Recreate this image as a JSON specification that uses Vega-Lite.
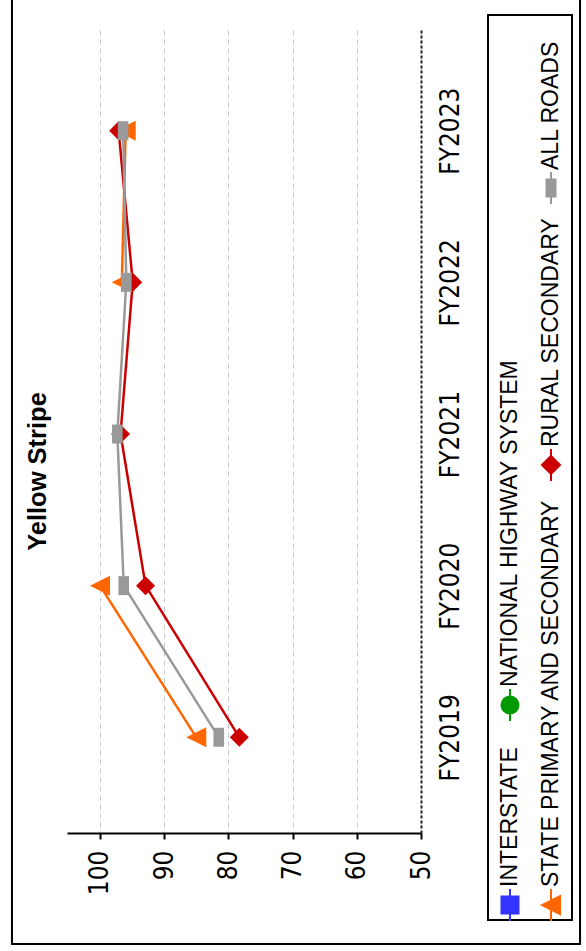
{
  "$schema": "https://vega.github.io/schema/vega-lite/v6.json",
  "width": 354,
  "height": 803,
  "autosize": {"type": "none"},
  "padding": {"left": 67, "top": 30, "right": 165, "bottom": 118},
  "background": "white",
  "config": {"view": {"stroke": null}, "font": "Liberation Sans"},
  "title": {"text": "Yellow Stripe", "orient": "left", "anchor": "middle", "frame": "group", "font": "Liberation Sans", "fontSize": 25.5, "fontWeight": "bold", "color": "black", "offset": -41, "dx": -40},
  "layer": [
    {
      "data": {"values": [
        {"series": "STATE PRIMARY AND SECONDARY", "year": 2019, "value": 85.0},
        {"series": "STATE PRIMARY AND SECONDARY", "year": 2020, "value": 100.0},
        {"series": "STATE PRIMARY AND SECONDARY", "year": 2021, "value": null},
        {"series": "STATE PRIMARY AND SECONDARY", "year": 2022, "value": 96.6},
        {"series": "STATE PRIMARY AND SECONDARY", "year": 2023, "value": 96.0},
        {"series": "RURAL SECONDARY", "year": 2019, "value": 78.3},
        {"series": "RURAL SECONDARY", "year": 2020, "value": 92.9},
        {"series": "RURAL SECONDARY", "year": 2021, "value": 96.8},
        {"series": "RURAL SECONDARY", "year": 2022, "value": 94.9},
        {"series": "RURAL SECONDARY", "year": 2023, "value": 97.1},
        {"series": "ALL ROADS", "year": 2019, "value": 81.5},
        {"series": "ALL ROADS", "year": 2020, "value": 96.3},
        {"series": "ALL ROADS", "year": 2021, "value": 97.3},
        {"series": "ALL ROADS", "year": 2022, "value": 95.9},
        {"series": "ALL ROADS", "year": 2023, "value": 96.4}
      ]},
      "encoding": {
        "x": {
          "field": "value", "type": "quantitative",
          "scale": {"domain": [50, 105.14], "reverse": true, "nice": false, "zero": false},
          "axis": {
            "orient": "bottom", "values": [50, 60, 70, 80, 90, 100], "title": null,
            "grid": true, "gridColor": "#c8c8c8", "gridDash": [5, 4], "gridWidth": 1,
            "domainColor": "black", "domainWidth": 2,
            "tickColor": "black", "tickWidth": 2, "tickSize": 6,
            "labelAngle": 270, "labelAlign": "right", "labelBaseline": "middle", "labelPadding": 11,
            "labelFont": "DejaVu Sans Condensed, DejaVu Sans", "labelFontSize": 26, "labelColor": "black",
            "labelFlush": false, "labelOverlap": false
          }
        },
        "y": {
          "field": "year", "type": "quantitative",
          "scale": {"domain": [2018.369, 2023.664], "nice": false, "zero": false},
          "axis": {
            "orient": "right", "values": [2019, 2020, 2021, 2022, 2023], "labelExpr": "'FY' + datum.value",
            "title": null, "grid": false, "ticks": false,
            "domainColor": "#222222", "domainDash": [3, 2], "domainWidth": 2,
            "labelAngle": 270, "labelAlign": "center", "labelBaseline": "top", "labelPadding": 16,
            "labelFont": "DejaVu Sans Condensed, DejaVu Sans", "labelFontSize": 26, "labelColor": "black",
            "labelFlush": false, "labelOverlap": false
          }
        },
        "color": {
          "field": "series", "type": "nominal",
          "scale": {
            "domain": ["INTERSTATE", "NATIONAL HIGHWAY SYSTEM", "STATE PRIMARY AND SECONDARY", "RURAL SECONDARY", "ALL ROADS"],
            "range": ["#3333FF", "#009900", "#FF6600", "#CC0000", "#999999"]
          },
          "legend": null
        }
      },
      "layer": [
        {
          "mark": {"type": "line", "strokeWidth": 2.5, "invalid": "break-paths-filter-domains"},
          "encoding": {"order": {"field": "year", "type": "quantitative"}}
        },
        {
          "mark": {"type": "point", "filled": true, "size": 400, "opacity": 1, "strokeWidth": 0},
          "encoding": {
            "shape": {
              "field": "series", "type": "nominal",
              "scale": {
                "domain": ["INTERSTATE", "NATIONAL HIGHWAY SYSTEM", "STATE PRIMARY AND SECONDARY", "RURAL SECONDARY", "ALL ROADS"],
                "range": ["M-0.95,-0.95H0.95V0.95H-0.95Z", "M0.95,0A0.95,0.95 0 1,1 -0.95,0A0.95,0.95 0 1,1 0.95,0Z", "M-1,0L1,-1L1,1Z", "M0,-0.95L0.95,0L0,0.95L-0.95,0Z", "M-0.53,-0.95H0.53V0.95H-0.53Z"]
              },
              "legend": null
            }
          }
        }
      ]
    },
    {
      "data": {"values": [{}]},
      "layer": [
        {
          "mark": {"type": "rect", "filled": false, "stroke": "black", "strokeWidth": 2},
          "encoding": {
            "x": {"datum": 113.71}, "x2": {"datum": 25.23},
            "y": {"datum": 2023.895}, "y2": {"datum": 2017.637}
          }
        },
        {
          "mark": {"type": "rect", "filled": false, "stroke": "black", "strokeWidth": 2},
          "encoding": {
            "x": {"datum": 39.56}, "x2": {"datum": 26.48},
            "y": {"datum": 2023.763}, "y2": {"datum": 2017.795}
          }
        },
        {
          "mark": {"type": "point", "shape": "M0,-1.6V1.6M-0.85,-0.85H0.85V0.85H-0.85Z", "size": 400, "filled": true, "fill": "#3333FF", "stroke": "#3333FF", "strokeWidth": 2, "opacity": 1},
          "encoding": {"x": {"datum": 36.14}, "y": {"datum": 2017.894}}
        },
        {
          "mark": {"type": "text", "text": "INTERSTATE", "angle": 270, "align": "left", "baseline": "middle", "font": "Liberation Sans", "fontSize": 23, "color": "black"},
          "encoding": {"x": {"datum": 36.14}, "y": {"datum": 2018.013}}
        },
        {
          "mark": {"type": "point", "shape": "M0,-1.6V1.6M0.85,0A0.85,0.85 0 1,1 -0.85,0A0.85,0.85 0 1,1 0.85,0Z", "size": 400, "filled": true, "fill": "#009900", "stroke": "#009900", "strokeWidth": 2, "opacity": 1},
          "encoding": {"x": {"datum": 36.14}, "y": {"datum": 2019.213}}
        },
        {
          "mark": {"type": "text", "text": "NATIONAL HIGHWAY SYSTEM", "angle": 270, "align": "left", "baseline": "middle", "font": "Liberation Sans", "fontSize": 23, "color": "black"},
          "encoding": {"x": {"datum": 36.14}, "y": {"datum": 2019.332}}
        },
        {
          "mark": {"type": "point", "shape": "M0,-1.6V1.6M-0.9,0L0.9,-0.9L0.9,0.9Z", "size": 400, "filled": true, "fill": "#FF6600", "stroke": "#FF6600", "strokeWidth": 2, "opacity": 1},
          "encoding": {"x": {"datum": 29.75}, "y": {"datum": 2017.894}}
        },
        {
          "mark": {"type": "text", "text": "STATE PRIMARY AND SECONDARY", "angle": 270, "align": "left", "baseline": "middle", "font": "Liberation Sans", "fontSize": 23, "color": "black"},
          "encoding": {"x": {"datum": 29.75}, "y": {"datum": 2018.013}}
        },
        {
          "mark": {"type": "point", "shape": "M0,-1.6V1.6M0,-0.9L0.9,0L0,0.9L-0.9,0Z", "size": 400, "filled": true, "fill": "#CC0000", "stroke": "#CC0000", "strokeWidth": 2, "opacity": 1},
          "encoding": {"x": {"datum": 29.75}, "y": {"datum": 2020.796}}
        },
        {
          "mark": {"type": "text", "text": "RURAL SECONDARY", "angle": 270, "align": "left", "baseline": "middle", "font": "Liberation Sans", "fontSize": 23, "color": "black"},
          "encoding": {"x": {"datum": 29.75}, "y": {"datum": 2020.914}}
        },
        {
          "mark": {"type": "point", "shape": "M0,-1.6V1.6M-0.45,-0.85H0.45V0.85H-0.45Z", "size": 400, "filled": true, "fill": "#999999", "stroke": "#999999", "strokeWidth": 2, "opacity": 1},
          "encoding": {"x": {"datum": 29.75}, "y": {"datum": 2022.622}}
        },
        {
          "mark": {"type": "text", "text": "ALL ROADS", "angle": 270, "align": "left", "baseline": "middle", "font": "Liberation Sans", "fontSize": 23, "color": "black"},
          "encoding": {"x": {"datum": 29.75}, "y": {"datum": 2022.741}}
        }
      ]
    }
  ]
}
